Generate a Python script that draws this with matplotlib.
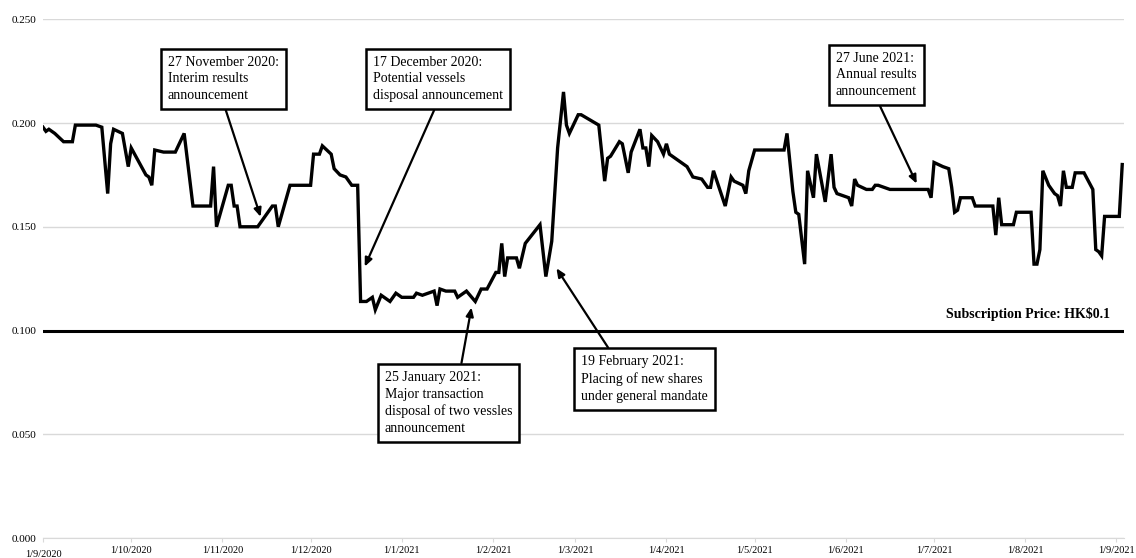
import pandas as pd
import numpy as np
import matplotlib.pyplot as plt
import matplotlib.dates as mdates

plt.rcParams['font.family'] = ['Liberation Serif', 'DejaVu Serif']

# days after 1 Sep 2020 and closing price (HK$)
start = pd.Timestamp('2020-09-01')
day_offsets = [0, 1, 2, 4, 7, 10, 11, 18, 20, 22, 23, 24, 27, 29, 30, 35, 36, 37, 38, 41,
               45, 48, 51, 57, 58, 59, 63, 64, 65, 66, 67, 73, 78, 79, 80, 84, 91, 92, 94, 95,
               98, 99, 101, 103, 105, 107, 108, 110, 112, 113, 115, 118, 120, 122, 126, 127, 129, 133, 134, 135,
               137, 140, 141, 144, 147, 149, 151, 154, 155, 156, 157, 158, 161, 162, 164, 169, 171, 173, 175, 177,
               178, 179, 182, 183, 189, 191, 192, 193, 196, 197, 199, 200, 203, 204, 205, 206, 207, 209, 211, 212,
               213, 216, 219, 221, 224, 226, 227, 228, 232, 234, 235, 238, 239, 240, 242, 252, 253, 255, 256, 257,
               259, 260, 262, 263, 266, 268, 269, 270, 274, 275, 276, 277, 280, 282, 283, 284, 288, 301, 302, 303,
               306, 308, 309, 310, 311, 312, 316, 317, 323, 324, 325, 326, 330, 331, 333, 336, 337, 338, 339, 340,
               342, 344, 345, 346, 347, 348, 350, 351, 354, 357, 358, 359, 360, 361, 366, 367]
prices = [0.198, 0.196, 0.197, 0.195, 0.191, 0.191, 0.199, 0.199, 0.198, 0.166, 0.190, 0.197, 0.195, 0.179, 0.188, 0.175, 0.174, 0.170, 0.187, 0.186,
          0.186, 0.195, 0.160, 0.160, 0.179, 0.150, 0.170, 0.170, 0.160, 0.160, 0.150, 0.150, 0.160, 0.160, 0.150, 0.170, 0.170, 0.185, 0.185, 0.189,
          0.185, 0.178, 0.175, 0.174, 0.170, 0.170, 0.114, 0.114, 0.116, 0.110, 0.117, 0.114, 0.118, 0.116, 0.116, 0.118, 0.117, 0.119, 0.112, 0.120,
          0.119, 0.119, 0.116, 0.119, 0.114, 0.120, 0.120, 0.128, 0.128, 0.142, 0.126, 0.135, 0.135, 0.130, 0.142, 0.151, 0.126, 0.143, 0.188, 0.215,
          0.199, 0.195, 0.204, 0.204, 0.199, 0.172, 0.183, 0.184, 0.191, 0.190, 0.176, 0.186, 0.197, 0.188, 0.188, 0.179, 0.194, 0.191, 0.185, 0.190,
          0.185, 0.182, 0.179, 0.174, 0.173, 0.169, 0.169, 0.177, 0.160, 0.174, 0.172, 0.170, 0.166, 0.177, 0.187, 0.187, 0.195, 0.167, 0.157, 0.156,
          0.132, 0.177, 0.164, 0.185, 0.162, 0.185, 0.169, 0.166, 0.164, 0.160, 0.173, 0.170, 0.168, 0.168, 0.170, 0.170, 0.168, 0.168, 0.164, 0.181,
          0.179, 0.178, 0.169, 0.157, 0.158, 0.164, 0.164, 0.160, 0.160, 0.146, 0.164, 0.151, 0.151, 0.157, 0.157, 0.157, 0.132, 0.132, 0.139, 0.177,
          0.170, 0.166, 0.165, 0.160, 0.177, 0.169, 0.169, 0.176, 0.176, 0.168, 0.139, 0.138, 0.136, 0.155, 0.155, 0.180]
subscription_price = 0.1

tick_months = pd.date_range('2020-09-01', '2021-09-01', freq='MS')
tick_labels = [f"1/{d.month}/{d.year}" for d in tick_months]
y_ticks = [0.0, 0.05, 0.10, 0.15, 0.20, 0.25]

# (text, arrow tip day, arrow tip price, text day, text price)
events = [
    ("27 November 2020:\nInterim results\nannouncement", 74.0, 0.1548, 42.4, 0.2325),
    ("17 December 2020:\nPotential vessels\ndisposal announcement", 109.4, 0.1308, 112.1, 0.2325),
    ("25 January 2021:\nMajor transaction\ndisposal of two vessles\nannouncement", 145.7, 0.1111, 116.2, 0.0806),
    ("19 February 2021:\nPlacing of new shares\nunder general mandate", 174.6, 0.1300, 182.9, 0.0880),
    ("27 June 2021:\nAnnual results\nannouncement", 297.1, 0.1708, 269.6, 0.2344),
]

dates = start + pd.to_timedelta(day_offsets, unit='D')

f = plt.figure(figsize=(11.36, 5.58), dpi=100, facecolor='w')
ax = f.add_axes([43 / 1136, 1 - 538 / 558, (1124 - 43) / 1136, (538 - 19.3) / 558])

ax.plot(dates, prices, color='black', linewidth=2.4, solid_joinstyle='miter', zorder=3)
ax.axhline(subscription_price, color='black', linewidth=2.2, zorder=3)
ax.text(start + pd.Timedelta(days=363), 0.1045, 'Subscription Price: HK$0.1',
        ha='right', va='bottom', fontsize=10, fontweight='bold')

for label, tip_d, tip_p, txt_d, txt_p in events:
    ax.annotate(label, xy=(start + pd.Timedelta(days=tip_d), tip_p),
                xytext=(start + pd.Timedelta(days=txt_d), txt_p),
                ha='left', va='top', fontsize=10, linespacing=1.38,
                bbox=dict(boxstyle='square,pad=0.5', fc='white', ec='black', lw=1.8),
                arrowprops=dict(arrowstyle='-|>,head_length=0.5,head_width=0.22', color='black',
                                lw=1.6, mutation_scale=10, relpos=(0.5, 0), shrinkA=0, shrinkB=0),
                zorder=5)

ax.set_xlim(start, start + pd.Timedelta(days=367.6))
ax.set_ylim(0, 0.25)
ax.set_xticks(tick_months)
ax.set_xticklabels(tick_labels, fontsize=7.5)
ax.set_yticks(y_ticks)
ax.set_yticklabels([f"{v:.3f}" for v in y_ticks], fontsize=8)
ax.xaxis.get_majorticklabels()[0].set_y(-0.008)

ax.grid(axis='y', color='#d9d9d9', linewidth=1)
ax.set_axisbelow(True)
for side in ['top', 'right', 'left']:
    ax.spines[side].set_visible(False)
ax.spines['bottom'].set_color('#d9d9d9')
ax.tick_params(axis='x', length=3, color='#d9d9d9', pad=3)
ax.tick_params(axis='y', length=0, pad=5)

plt.savefig('out.png', dpi=100)
